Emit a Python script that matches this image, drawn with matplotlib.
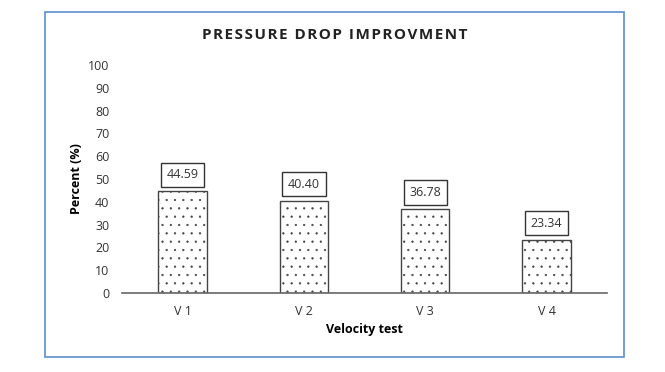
import matplotlib
matplotlib.use('Agg')
import matplotlib.pyplot as plt
from matplotlib.patches import Rectangle

categories = ["V 1", "V 2", "V 3", "V 4"]
values = [44.59, 40.40, 36.78, 23.34]
yticks = [0, 10, 20, 30, 40, 50, 60, 70, 80, 90, 100]

plt.rcParams['font.family'] = ['Open Sans', 'DejaVu Sans']
plt.rcParams['hatch.linewidth'] = 0.4
plt.rcParams['hatch.color'] = '#8a8a8a'

fig = plt.figure(figsize=(6.65, 3.72), dpi=100)
ax = fig.add_axes([0.1835, 0.2124, 0.7295, 0.6126])

# outer chart border
fig.patches.append(Rectangle((45 / 665, 1 - 357 / 372), 579 / 665, 345 / 372,
                             transform=fig.transFigure, fill=False,
                             edgecolor='#5b8fcf', linewidth=1.2))

bars = ax.bar(categories, values, width=0.4, color='white', edgecolor='#444444',
              linewidth=1.0, hatch='..')
for bar, val in zip(bars, values):
    ax.annotate(f'{val:.2f}', (bar.get_x() + bar.get_width() / 2, bar.get_height()),
                xytext=(0, 12), textcoords='offset points', ha='center', va='center',
                fontsize=9, color='#333333',
                bbox=dict(boxstyle='square,pad=0.45', fc='white', ec='#333333', lw=1.0))

ax.set_ylim(0, 100)
ax.set_xlim(-0.5, 3.5)
ax.set_yticks(yticks)
ax.tick_params(axis='both', length=0, labelsize=9, labelcolor='#333333')
ax.tick_params(axis='y', pad=9)
ax.tick_params(axis='x', pad=9)
for s in ['top', 'right', 'left']:
    ax.spines[s].set_visible(False)
ax.spines['bottom'].set_color('#666666')
ax.spines['bottom'].set_linewidth(1.2)

ax.set_ylabel('Percent (%)', fontsize=9, fontweight='bold', labelpad=4)
ax.set_xlabel('Velocity test', fontsize=9, fontweight='bold', labelpad=3)
title = 'PRESSURE DROP IMPROVMENT'
spaced = '\u200a'.join(title)
fig.text(335 / 665, 1 - 35 / 372, spaced,
         ha='center', va='center', fontsize=11, fontweight='bold', color='#222222',
         family=['Open Sans', 'DejaVu Sans'])

fig.savefig('out.png', dpi=100)
